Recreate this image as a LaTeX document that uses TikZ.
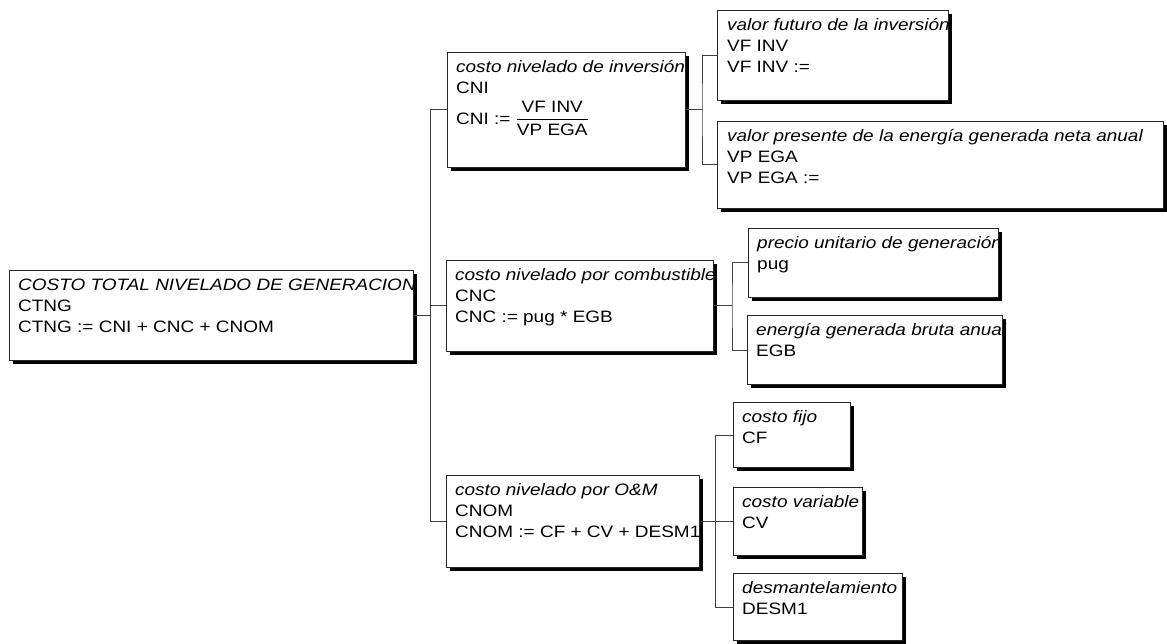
\documentclass[tikz,border=0pt]{standalone}
\usepackage{fontspec}
\setmainfont{Liberation Sans}[FakeStretch=1.15]
\usepackage{amsmath}
\usetikzlibrary{
  positioning, calc,
  shadows
}

\begin{document}
\begin{tikzpicture}[
  x=1pt, y=-1pt,
  font=\fontsize{16.5}{21}\selectfont,
  box/.style={draw=black!85, fill=white, line width=1pt,
              anchor=north west, inner sep=0pt,
              drop shadow={shadow xshift=3pt, shadow yshift=-3.5pt,
                           fill=black, opacity=1}},
  txt/.style={align=left, inner sep=0pt},
  lnk/.style={draw=black!75, line width=1pt}
]
  \def\xA{9}  \def\xB{446}  \def\xC{717}  \def\xD{747}  \def\xE{733}

  \useasboundingbox (0,0) rectangle (1167,644);

  %--- boxes ---
  \node[box, minimum width=404pt, minimum height=90pt]  (root)  at (\xA,270) {};
  \node[box, minimum width=238pt, minimum height=115pt] (cni)   at (\xB+1,52) {};
  \node[box, minimum width=267pt, minimum height=91pt]  (cnc)   at (\xB,260) {};
  \node[box, minimum width=253pt, minimum height=92pt]  (cnom)  at (\xB,475) {};
  \node[box, minimum width=231pt, minimum height=90pt]  (vfinv) at (\xC,10) {};
  \node[box, minimum width=446pt, minimum height=87pt]  (vpega) at (\xC,121) {};
  \node[box, minimum width=250pt, minimum height=69pt]  (pug)   at (\xD+1,228) {};
  \node[box, minimum width=255pt, minimum height=69pt]  (egb)   at (\xD,315) {};
  \node[box, minimum width=117pt, minimum height=65pt]  (cf)    at (\xE,402) {};
  \node[box, minimum width=129pt, minimum height=68pt]  (cv)    at (\xE,487) {};
  \node[box, minimum width=169pt, minimum height=67pt]  (desm)  at (\xE,573) {};

  %--- texts ---
  \node[txt, below right=8.5pt and 9pt of root.north west] (root-t)
    {\textit{COSTO TOTAL NIVELADO DE GENERACION}\\CTNG\\CTNG := CNI + CNC + CNOM};
  \node[txt, below right=8.5pt and 9pt of cni.north west] (cni-t)
    {\textit{costo nivelado de inversión}\\CNI\\[6pt]
     CNI := $\dfrac{\text{VF INV}}{\text{VP EGA}}$};
  \node[txt, below right=8.5pt and 9pt of cnc.north west] (cnc-t)
    {\textit{costo nivelado por combustible}\\CNC\\CNC := pug * EGB};
  \node[txt, below right=8.5pt and 9pt of cnom.north west] (cnom-t)
    {\textit{costo nivelado por O\&M}\\CNOM\\CNOM := CF + CV + DESM1};
  \node[txt, below right=8.5pt and 10pt of vfinv.north west] (vfinv-t)
    {\textit{valor futuro de la inversión}\\VF INV\\VF INV :=};
  \node[txt, below right=8.5pt and 10pt of vpega.north west] (vpega-t)
    {\textit{valor presente de la energía generada neta anual}\\VP EGA\\VP EGA :=};
  \node[txt, below right=8.5pt and 9pt of pug.north west] (pug-t)
    {\textit{precio unitario de generación}\\pug};
  \node[txt, below right=8.5pt and 9pt of egb.north west] (egb-t)
    {\textit{energía generada bruta anual}\\EGB};
  \node[txt, below right=8.5pt and 9pt of cf.north west] (cf-t)
    {\textit{costo fijo}\\CF};
  \node[txt, below right=8.5pt and 9pt of cv.north west] (cv-t)
    {\textit{costo variable}\\CV};
  \node[txt, below right=8.5pt and 9pt of desm.north west] (desm-t)
    {\textit{desmantelamiento}\\DESM1};

  %--- links: level 1 ---
  \draw[lnk] (root.east) -- ++(16,0) coordinate (j0);
  \draw[lnk] (cni.west) -- (cni.west -| j0) -- (cnom.west -| j0) -- (cnom.west);
  \draw[lnk] (j0 |- cnc.west) -- (cnc.west);

  %--- links: level 2 ---
  \draw[lnk] (cni.east) -- ++(16,0) coordinate (j1);
  \draw[lnk] (vfinv.west) -| (j1) |- (vpega.west);
  \draw[lnk] (cnc.east) -- ++(18,0) coordinate (j2);
  \draw[lnk] (pug.west) -| (j2) |- (egb.west);
  \draw[lnk] (cnom.east) -- (cv.west);
  \draw[lnk] (cf.west) -- ++(-18,0) |- (desm.west);

\end{tikzpicture}
\end{document}
